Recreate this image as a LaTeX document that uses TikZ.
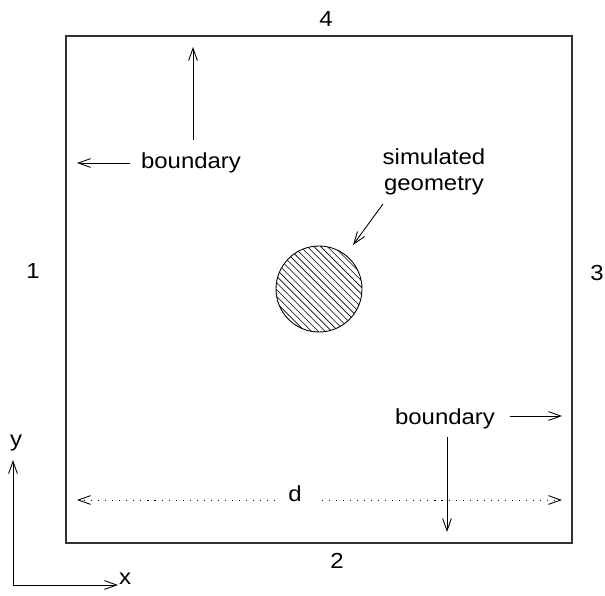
\documentclass[tikz,border=0pt]{standalone}
\usepackage{fontspec}
\setmainfont{Liberation Sans}[FakeStretch=1.1]
\usetikzlibrary{arrows.meta, calc}

\begin{document}
\begin{tikzpicture}[x=0.02cm, y=-0.02cm,
        every node/.style={font=\fontsize{12.4}{14.7}\selectfont, inner sep=1pt},
        barb/.style={-{Straight Barb[length=7pt,width=5pt]}, line width=0.5pt},
        dimline/.style={barb, dash pattern=on 0.6pt off 3.4pt}]

        \useasboundingbox (0,0) rectangle (605,595);

        % Domain
        \draw[line width=0.6pt, black!80] (66,36) rectangle (572,543);

        % Edge numbers
        \node (side4) at (326,19) {4};
        \node (side1) at (33,271) {1};
        \node (side3) at (597,273) {3};
        \node (side2) at (337,561) {2};

        % Circle and hatching
        \coordinate (geo) at (319,289);
        \begin{scope}
            \clip (geo) circle(43);
            \foreach \k in {-110,-103.3,...,110}
                \draw[line width=0.35pt] ($(geo)+(\k-60,-60)$) -- ($(geo)+(\k+60,60)$);
        \end{scope}
        \draw[line width=0.5pt] (geo) circle(43);

        % Annotation for simulated geometry
        \node[align=center] (simgeo) at (434,172) {simulated\\geometry};
        \coordinate (geotip) at (353,245);
        \draw[barb] (383,204) -- (geotip);

        % Upper boundary label
        \node (bndA) at (191,163) {boundary};
        \coordinate (bndAleft) at (77,163);
        \coordinate (bndAup) at (193,47);
        \draw[barb] (130,163) -- (bndAleft);
        \draw[barb] (193,140) -- (bndAup);

        % Lower boundary label
        \node (bndB) at (445,419) {boundary};
        \coordinate (bndBright) at (562,416);
        \coordinate (bndBdown) at (447,532);
        \draw[barb] (510,416) -- (bndBright);
        \draw[barb] (447,437) -- (bndBdown);

        % Width d
        \node (dim) at (295,494) {d};
        \coordinate (dimL) at (77,500);
        \coordinate (dimR) at (562,500);
        \draw[dimline] (275,500) -- (dimL);
        \draw[dimline] (322,500) -- (dimR);

        % Axes
        \coordinate (orig) at (13,585);
        \node (ylab) at (16,443) {y};
        \node (xlab) at (125,579) {x};
        \draw[barb] (orig) -- (13,460);
        \draw[barb] (orig) -- (118,585);

    \end{tikzpicture}
\end{document}
